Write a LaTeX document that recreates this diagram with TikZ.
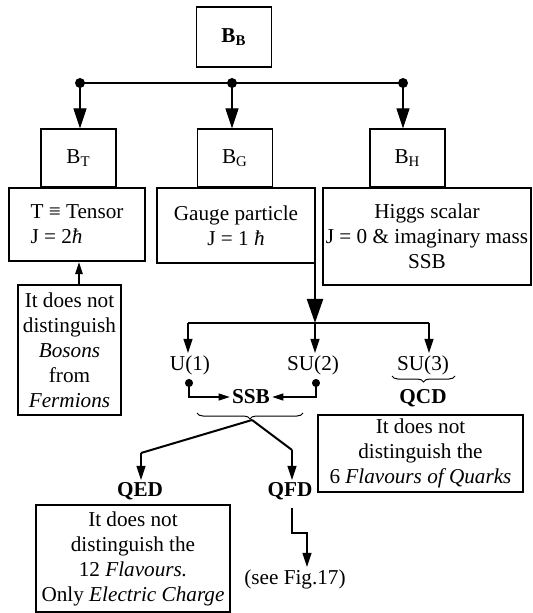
\documentclass[tikz,border=0pt]{standalone}
\usepackage{fontspec}
\setmainfont{Liberation Serif}
\usetikzlibrary{arrows.meta,decorations.pathreplacing}

\newcommand{\hb}{\textit{ħ}}

\tikzset{
  bbox/.style={draw, line width=0.55pt, inner sep=0pt, minimum width=37.5pt, minimum height=29pt},
  note/.style={draw, line width=0.55pt, inner sep=0pt, align=center},
  frame/.style={draw, line width=1.2pt, inner sep=0pt, align=center},
  lbl/.style={inner sep=1pt},
  bus/.style={line width=0.8pt},
  stem/.style={line width=0.55pt},
  heavy/.style={line width=1pt},
  bigtip/.style={-{Triangle[length=10pt,width=6.5pt]}},
  tip/.style={-{Triangle[length=7pt,width=4.5pt]}},
  dottip/.style={{Circle[length=4pt]}-{Triangle[length=5.5pt,width=3.5pt]}},
  brc/.style={decorate, decoration={brace, mirror, amplitude=3pt}, line width=0.5pt}
}

\begin{document}
\begin{tikzpicture}[x=0.5pt, y=-0.5pt, font=\fontsize{10.6}{12.5}\selectfont]
\useasboundingbox (0,0) rectangle (532,613);

\node[bbox, minimum height=30pt] (BB) at (234,37) {\textbf{B\textsubscript{B}}};
\node[bbox] (BT) at (78.5,158) {B\textsubscript{T}};
\node[bbox] (BG) at (235,158) {B\textsubscript{G}};
\node[bbox] (BH) at (407.5,158) {B\textsubscript{H}};

\node[frame, minimum width=68pt, minimum height=36.5pt, align=left] (Tens) at (77,224.5) {T ≡ Tensor\\J = 2\hb};
\node[frame, minimum width=79pt, minimum height=37.5pt] (Gauge) at (236,225.5) {Gauge particle\\J = 1 \hb};
\node[frame, minimum width=104pt, minimum height=48.5pt] (Higgs) at (427,236.5) {Higgs scalar\\J = 0 \& imaginary mass\\SSB};

\node[note, minimum width=51.5pt, minimum height=65pt] (Bos) at (69.5,350) {It does not\\distinguish\\\textit{Bosons}\\from\\\textit{Fermions}};

\node[lbl] (U1) at (190,365) {U(1)};
\node[lbl] (SU2) at (313,365) {SU(2)};
\node[lbl] (SU3) at (423,365) {SU(3)};
\node[lbl] (SSB) at (251,397) {\textbf{SSB}};
\node[lbl] (QCD) at (423,398) {\textbf{QCD}};
\node[note, minimum width=102.5pt, minimum height=38.5pt] (QCDbox) at (420.5,453.5) {It does not\\distinguish the\\6 \textit{Flavours of Quarks}};
\node[lbl] (QED) at (140,491) {\textbf{QED}};
\node[lbl] (QFD) at (290,491) {\textbf{QFD}};
\node[note, minimum width=97pt, minimum height=53.5pt] (QEDbox) at (133,558.5) {It does not\\distinguish the\\12 \textit{Flavours.}\\Only \textit{Electric Charge}};
\node[lbl] (Fig) at (295,579) {(see Fig.17)};

\coordinate (jT) at (80,83);
\coordinate (jG) at (232,83);
\coordinate (jH) at (403,83);
\draw[bus] (jT) -- (jH);
\foreach \j/\b in {jT/BT, jG/BG, jH/BH} {
  \fill (\j) circle (2.5pt);
  \draw[stem, bigtip] (\j) -- (\j |- \b.north);
}

\draw[stem, -{Triangle[length=6pt,width=3.8pt]}] ([xshift=4.75pt]Bos.north) -- ([xshift=4.75pt]Bos.north |- Tens.south);

\coordinate (uj) at (188,323);
\coordinate (gj) at (315,323);
\coordinate (cj) at (429,323);
\draw[line width=1.1pt, -{Triangle[length=12pt,width=8pt]}] (gj |- Gauge.south) -- (gj);
\draw[bus] (uj) -- (cj);
\draw[stem, tip] (uj) -- (uj |- U1.north);
\draw[stem, tip] (gj) -- (gj |- SU2.north);
\draw[stem, tip] (cj) -- (cj |- SU3.north);

\coordinate (ud) at (189,379);
\coordinate (sd) at (316,379);
\draw[stem, dottip] (ud) |- (SSB.west);
\draw[stem, dottip] (sd) |- (SSB.east);

\draw[brc] (197,413) -- (303,413);
\draw[brc] (392,376) -- (455,376);

\coordinate (bt) at (252,420);
\coordinate (qk) at (141,453);
\coordinate (fk) at (292,450);
\draw[heavy] (bt) -- (qk);
\draw[heavy] (bt) -- (fk);
\draw[stem, tip] (qk) -- (qk |- QED.north);
\draw[stem, tip] (fk) -- (fk |- QFD.north);

\coordinate (fb) at (307,533);
\draw[stem, tip] ([xshift=1pt, yshift=-3pt]QFD.south) |- (fb) -- (fb |- Fig.north);
\end{tikzpicture}
\end{document}
